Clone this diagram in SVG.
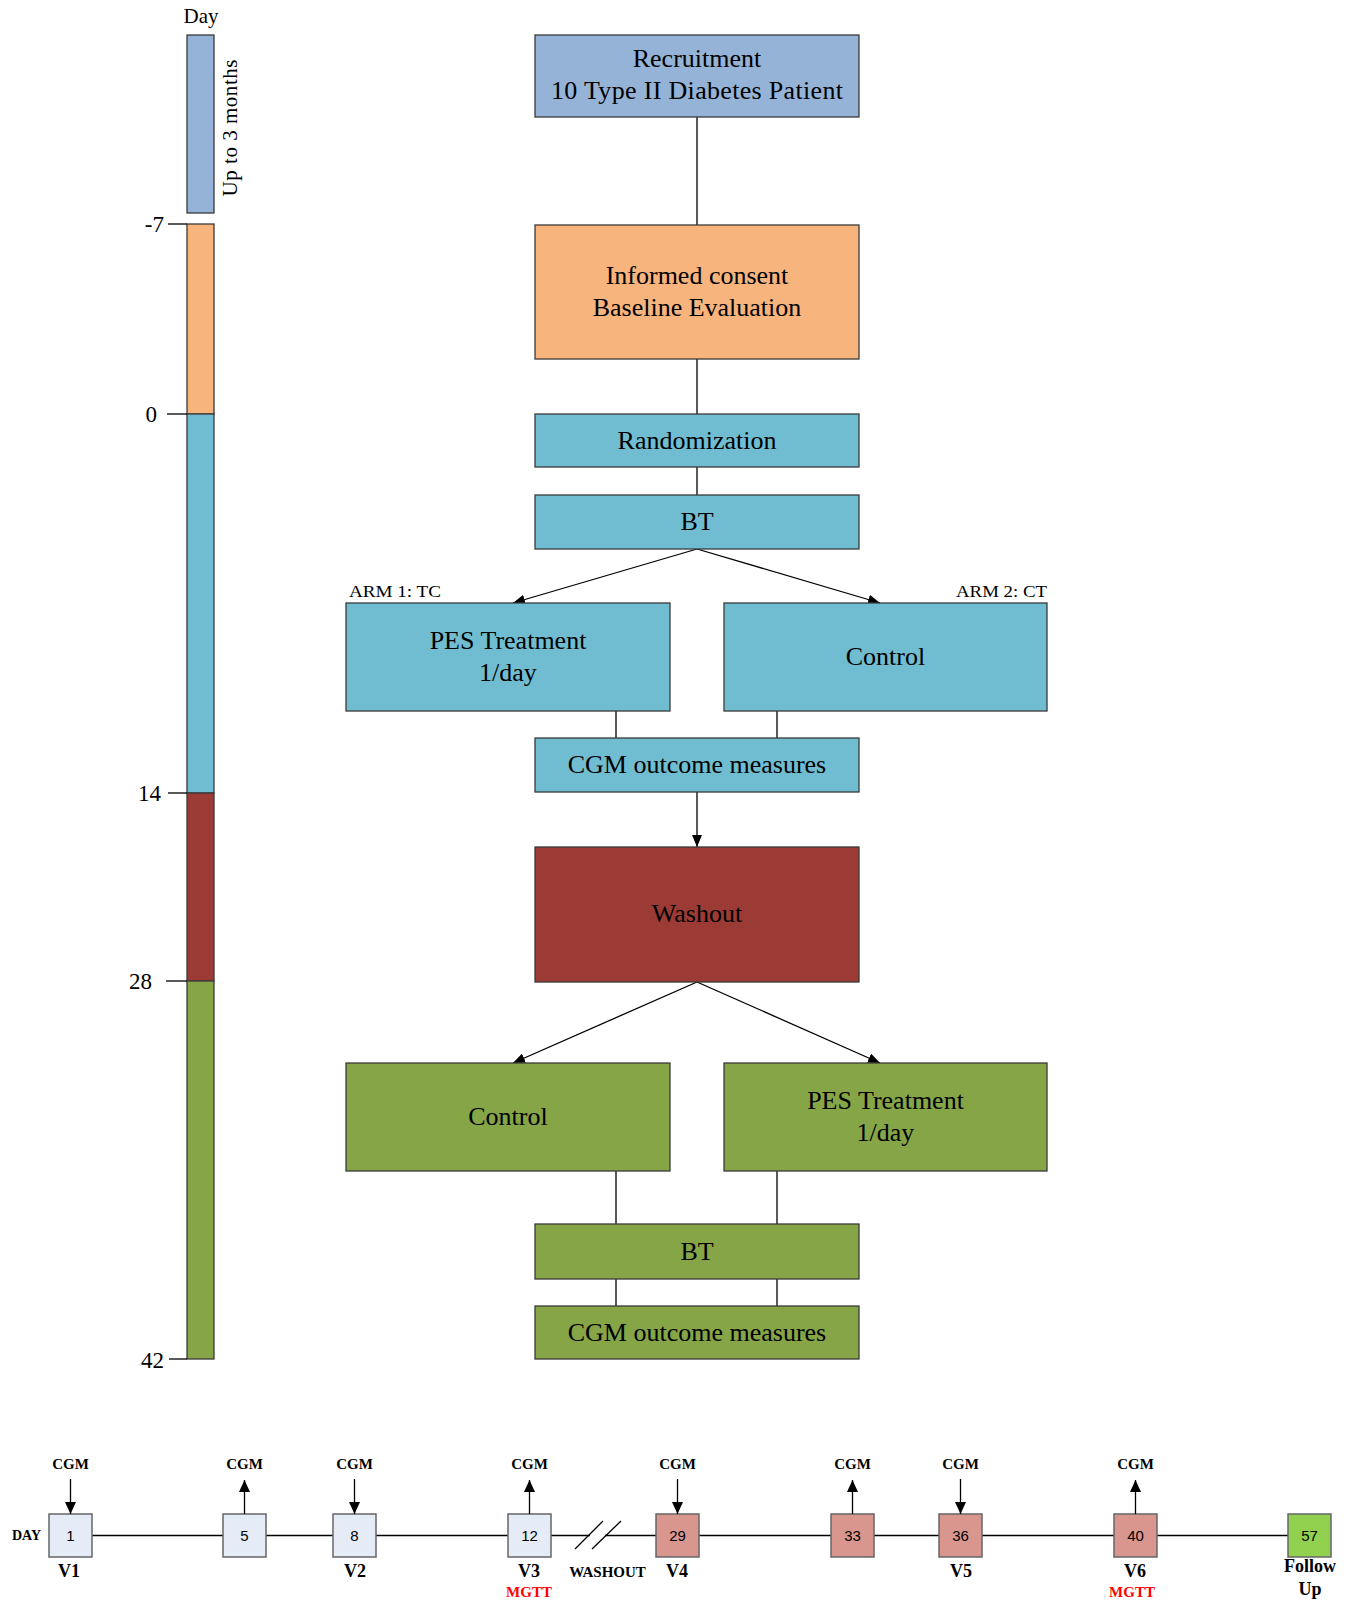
<svg xmlns="http://www.w3.org/2000/svg" width="1348" height="1604" viewBox="0 0 1348 1604">
<defs>
<marker id="ah" markerUnits="userSpaceOnUse" markerWidth="12" markerHeight="10" refX="12" refY="5" orient="auto"><path d="M0,0 L12,5 L0,10 z" fill="#000"/></marker>
<marker id="ah2" markerUnits="userSpaceOnUse" markerWidth="12" markerHeight="11" refX="12" refY="5.5" orient="auto"><path d="M0,0 L12,5.5 L0,11 z" fill="#000"/></marker>
</defs>
<style>
.box{stroke:#3a3a3a;stroke-width:1.3}
.blue{fill:#95B3D7}.orange{fill:#F8B47D}.teal{fill:#70BDD2}.red{fill:#9C3B35}.green{fill:#85A547}
.t{font-family:"Liberation Serif","Times New Roman",serif;font-size:26px;text-anchor:middle;fill:#000}
.tick{stroke:#000;stroke-width:1.3}
.lab{font-family:"Liberation Serif","Times New Roman",serif;font-size:23px;text-anchor:end;fill:#000}
.con{stroke:#000;stroke-width:1.3;fill:none}
.tb{stroke:#666;stroke-width:1.5}
.light{fill:#E5ECF7}.pink{fill:#D9968F}.lgreen{fill:#92D050}
.num{font-family:"Liberation Sans",Arial,sans-serif;font-size:15px;text-anchor:middle;fill:#000}
.b{font-family:"Liberation Serif","Times New Roman",serif;font-weight:bold;text-anchor:middle;fill:#000}
.mg{fill:#FF0000}
.arm{font-family:"Liberation Serif","Times New Roman",serif;font-size:17px;fill:#000}
</style>
<g id="day-bar">
<text x="201" y="23" font-family="Liberation Serif, Times New Roman, serif" font-size="21" text-anchor="middle">Day</text>
<rect class="box blue" x="187" y="35" width="27" height="178"/>
<text transform="translate(237,128) rotate(-90)" font-family="Liberation Serif, Times New Roman, serif" font-size="21" text-anchor="middle" textLength="137">Up to 3 months</text>
<rect class="box orange" x="187" y="224" width="27" height="190"/>
<rect class="box teal" x="187" y="414" width="27" height="379"/>
<rect class="box red" x="187" y="793" width="27" height="188"/>
<rect class="box green" x="187" y="981" width="27" height="378"/>
<line class="tick" x1="168" y1="224" x2="187" y2="224"/>
<line class="tick" x1="167" y1="414" x2="187" y2="414"/>
<line class="tick" x1="168" y1="793" x2="187" y2="793"/>
<line class="tick" x1="166" y1="981" x2="187" y2="981"/>
<line class="tick" x1="169" y1="1359" x2="187" y2="1359"/>
<text class="lab" x="164" y="232">-7</text>
<text class="lab" x="157" y="422">0</text>
<text class="lab" x="161" y="801">14</text>
<text class="lab" x="152" y="989">28</text>
<text class="lab" x="164" y="1368">42</text>
</g>
<g id="connectors">
<line class="con" x1="697" y1="117" x2="697" y2="225"/>
<line class="con" x1="697" y1="359" x2="697" y2="414"/>
<line class="con" x1="697" y1="467" x2="697" y2="495"/>
<line class="con" x1="697" y1="549" x2="513" y2="603" marker-end="url(#ah)"/>
<line class="con" x1="697" y1="549" x2="880" y2="603" marker-end="url(#ah)"/>
<line class="con" x1="616" y1="711" x2="616" y2="738"/>
<line class="con" x1="777" y1="711" x2="777" y2="738"/>
<line class="con" x1="697" y1="792" x2="697" y2="847" marker-end="url(#ah)"/>
<line class="con" x1="697" y1="982" x2="513" y2="1063" marker-end="url(#ah)"/>
<line class="con" x1="697" y1="982" x2="880" y2="1063" marker-end="url(#ah)"/>
<line class="con" x1="616" y1="1171" x2="616" y2="1224"/>
<line class="con" x1="777" y1="1171" x2="777" y2="1224"/>
<line class="con" x1="616" y1="1279" x2="616" y2="1306"/>
<line class="con" x1="777" y1="1279" x2="777" y2="1306"/>
</g>
<g id="recruitment"><rect class="box blue" x="535" y="35" width="324" height="82"/><text class="t" x="697" y="67">Recruitment</text><text class="t" x="697" y="98.5" textLength="292">10 Type II Diabetes Patient</text></g>
<g id="consent"><rect class="box orange" x="535" y="225" width="324" height="134"/><text class="t" x="697" y="284">Informed consent</text><text class="t" x="697" y="316">Baseline Evaluation</text></g>
<g id="randomization"><rect class="box teal" x="535" y="414" width="324" height="53"/><text class="t" x="697" y="449">Randomization</text></g>
<g id="bt1"><rect class="box teal" x="535" y="495" width="324" height="54"/><text class="t" x="697" y="530">BT</text></g>
<g id="pes1"><rect class="box teal" x="346" y="603" width="324" height="108"/><text class="t" x="508" y="649">PES Treatment</text><text class="t" x="508" y="681">1/day</text>
<text class="arm" x="349" y="597" textLength="92" lengthAdjust="spacingAndGlyphs">ARM 1: TC</text></g>
<g id="control1"><rect class="box teal" x="724" y="603" width="323" height="108"/><text class="t" x="885.5" y="665">Control</text>
<text class="arm" x="956" y="597" textLength="91" lengthAdjust="spacingAndGlyphs">ARM 2: CT</text></g>
<g id="cgm1"><rect class="box teal" x="535" y="738" width="324" height="54"/><text class="t" x="697" y="773">CGM outcome measures</text></g>
<g id="washout"><rect class="box red" x="535" y="847" width="324" height="135"/><text class="t" x="697" y="922">Washout</text></g>
<g id="control2"><rect class="box green" x="346" y="1063" width="324" height="108"/><text class="t" x="508" y="1125">Control</text></g>
<g id="pes2"><rect class="box green" x="724" y="1063" width="323" height="108"/><text class="t" x="885.5" y="1109">PES Treatment</text><text class="t" x="885.5" y="1141">1/day</text></g>
<g id="bt2"><rect class="box green" x="535" y="1224" width="324" height="55"/><text class="t" x="697" y="1260">BT</text></g>
<g id="cgm2"><rect class="box green" x="535" y="1306" width="324" height="53"/><text class="t" x="697" y="1341">CGM outcome measures</text></g>
<g id="timeline">
<path class="con" d="M92,1535.5 H590 M605,1535.5 H1288"/>
<line class="con" x1="575" y1="1549" x2="603" y2="1521"/>
<line class="con" x1="592" y1="1549" x2="621" y2="1521"/>
<text class="b" x="26.5" y="1540" font-size="14">DAY</text>
<g id="d1"><rect class="tb light" x="49" y="1514" width="43" height="43"/><text class="num" x="70.5" y="1541">1</text></g>
<g id="d5"><rect class="tb light" x="223" y="1514" width="43" height="43"/><text class="num" x="244.5" y="1541">5</text></g>
<g id="d8"><rect class="tb light" x="333" y="1514" width="43" height="43"/><text class="num" x="354.5" y="1541">8</text></g>
<g id="d12"><rect class="tb light" x="508" y="1514" width="43" height="43"/><text class="num" x="529.5" y="1541">12</text></g>
<g id="d29"><rect class="tb pink" x="656" y="1514" width="43" height="43"/><text class="num" x="677.5" y="1541">29</text></g>
<g id="d33"><rect class="tb pink" x="831" y="1514" width="43" height="43"/><text class="num" x="852.5" y="1541">33</text></g>
<g id="d36"><rect class="tb pink" x="939" y="1514" width="43" height="43"/><text class="num" x="960.5" y="1541">36</text></g>
<g id="d40"><rect class="tb pink" x="1114" y="1514" width="43" height="43"/><text class="num" x="1135.5" y="1541">40</text></g>
<g id="d57"><rect class="tb lgreen" x="1288" y="1514" width="43" height="43"/><text class="num" x="1309.5" y="1541">57</text></g>
<g id="cgm-arrows">
<line class="con" x1="70.5" y1="1479" x2="70.5" y2="1514" marker-end="url(#ah2)"/>
<line class="con" x1="244.5" y1="1514" x2="244.5" y2="1480" marker-end="url(#ah2)"/>
<line class="con" x1="354.5" y1="1479" x2="354.5" y2="1514" marker-end="url(#ah2)"/>
<line class="con" x1="529.5" y1="1514" x2="529.5" y2="1480" marker-end="url(#ah2)"/>
<line class="con" x1="677.5" y1="1479" x2="677.5" y2="1514" marker-end="url(#ah2)"/>
<line class="con" x1="852.5" y1="1514" x2="852.5" y2="1480" marker-end="url(#ah2)"/>
<line class="con" x1="960.5" y1="1479" x2="960.5" y2="1514" marker-end="url(#ah2)"/>
<line class="con" x1="1135.5" y1="1514" x2="1135.5" y2="1480" marker-end="url(#ah2)"/>
</g>
<g font-size="15">
<text class="b" x="70.5" y="1469">CGM</text>
<text class="b" x="244.5" y="1469">CGM</text>
<text class="b" x="354.5" y="1469">CGM</text>
<text class="b" x="529.5" y="1469">CGM</text>
<text class="b" x="677.5" y="1469">CGM</text>
<text class="b" x="852.5" y="1469">CGM</text>
<text class="b" x="960.5" y="1469">CGM</text>
<text class="b" x="1135.5" y="1469">CGM</text>
</g>
<g font-size="18">
<text class="b" x="69" y="1577">V1</text>
<text class="b" x="355" y="1577">V2</text>
<text class="b" x="529" y="1577">V3</text>
<text class="b" x="677" y="1577">V4</text>
<text class="b" x="961" y="1577">V5</text>
<text class="b" x="1135" y="1577">V6</text>
<text class="b" x="1310" y="1572">Follow</text>
<text class="b" x="1310" y="1595">Up</text>
</g>
<text class="b" x="607.5" y="1577" font-size="15">WASHOUT</text>
<text class="b mg" x="529" y="1597" font-size="15">MGTT</text>
<text class="b mg" x="1132" y="1597" font-size="15">MGTT</text>
</g>
</svg>
